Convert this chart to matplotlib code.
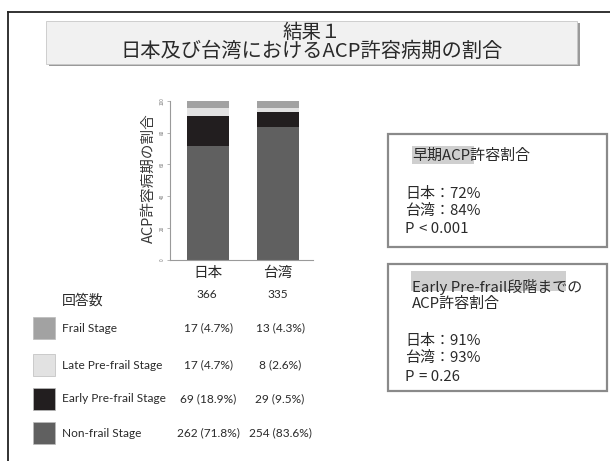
import matplotlib.pyplot as plt
from matplotlib.patches import Rectangle
import numpy as np

plt.rcParams['font.family'] = ['Noto Sans CJK JP', 'DejaVu Sans']

# Stage shares (%) per country, bottom to top of each stacked bar
countries = ['日本', '台湾']
stages = ['Non-frail Stage', 'Early Pre-frail Stage', 'Late Pre-frail Stage', 'Frail Stage']
pct_japan = [71.8, 18.9, 4.7, 4.7]
pct_taiwan = [83.6, 9.5, 2.6, 4.3]
stage_colors = ['#606060', '#221e1f', '#e2e2e2', '#a2a2a2']

# Table below the chart
n_total = [366, 335]
counts_japan = [262, 69, 17, 17]
counts_taiwan = [254, 29, 8, 13]

W, H = 610, 461
fig = plt.figure(figsize=(W / 100, H / 100), dpi=100)


def fx(x):
    return x / W


def fy(y):
    return 1 - y / H


# slide frame (top and left rule)
fig.add_artist(plt.Line2D([fx(8), fx(610)], [fy(12), fy(12)], color='#222222', lw=1.3))
fig.add_artist(plt.Line2D([fx(8), fx(8)], [fy(12), fy(461)], color='#222222', lw=1.3))

# title box with shadow
fig.add_artist(Rectangle((fx(49), fy(66)), fx(531), 43 / H, facecolor='#9a9a9a',
                         edgecolor='none', transform=fig.transFigure))
fig.add_artist(Rectangle((fx(46), fy(64)), fx(531), 43 / H, facecolor='#f1f1f1',
                         edgecolor='#c8c8c8', lw=0.6, transform=fig.transFigure))
fig.text(fx(312), fy(32), '結果１', ha='center', va='center', fontsize=14, color='#2a2a2a')
fig.text(fx(312), fy(51), '日本及び台湾におけるACP許容病期の割合', ha='center', va='center',
         fontsize=14.6, color='#2a2a2a')

# stacked bar chart
ax = fig.add_axes([fx(170), fy(260), fx(143), (260 - 96) / H])
x = np.arange(1, len(countries) + 1)
data = np.array([pct_japan, pct_taiwan]).T
bottom = np.zeros(len(countries))
for vals, col in zip(data, stage_colors):
    ax.bar(x, vals, bottom=bottom, width=0.6, color=col, edgecolor='none')
    bottom += vals
ax.set_xlim(0.457, 2.5)
ax.set_ylim(0, 103)
ax.spines[['top', 'right']].set_visible(False)
ax.spines['left'].set_bounds(0, 100)
for s in ['left', 'bottom']:
    ax.spines[s].set_color('#9a9a9a')
    ax.spines[s].set_linewidth(0.8)
ax.set_yticks([0, 20, 40, 60, 80, 100])
ax.set_yticklabels(['0', '20', '40', '60', '80', '100'], rotation=90, va='center',
                   fontsize=3.4, color='#777777')
ax.tick_params(axis='y', length=2, width=0.5, color='#9a9a9a', pad=1.5)
ax.set_xticks(x)
ax.set_xticklabels(countries, fontsize=10.5, color='#2a2a2a')
ax.tick_params(axis='x', length=0, pad=4)
ax.set_ylabel('ACP許容病期の割合', fontsize=10.5, color='#3a3a3a', labelpad=3)

# table: legend swatches, labels and counts
tfont = dict(family=['Lato', 'DejaVu Sans'], color='#2a2a2a', fontsize=8.6)
fig.text(fx(62), fy(301), '回答数', ha='left', va='center', fontsize=10, color='#2a2a2a')
for cx, n in zip([207, 278], n_total):
    fig.text(fx(cx), fy(295), str(n), ha='center', va='center', **tfont)

row_y = [328, 365, 399, 433]
for i, y in enumerate(row_y):
    k = len(stages) - 1 - i
    fig.add_artist(Rectangle((fx(33), fy(y + 11)), 22 / W, 22 / H, facecolor=stage_colors[k],
                             edgecolor='#bbbbbb', lw=0.5, transform=fig.transFigure))
    fig.text(fx(62), fy(y), stages[k], ha='left', va='center', **tfont)
    fig.text(fx(208), fy(y), f'{counts_japan[k]} ({pct_japan[k]:.1f}%)', ha='center', va='center', **tfont)
    fig.text(fx(280), fy(y), f'{counts_taiwan[k]} ({pct_taiwan[k]:.1f}%)', ha='center', va='center', **tfont)

# result boxes on the right
bfont = dict(fontsize=10.8, color='#2a2a2a', ha='left', va='center')
for top, bot in [(134, 247), (264, 391)]:
    fig.add_artist(Rectangle((fx(388), fy(bot)), fx(219), (bot - top) / H, facecolor='white',
                             edgecolor='#8a8a8a', lw=1.6, transform=fig.transFigure))

fig.add_artist(Rectangle((fx(412), fy(164)), fx(62), 18 / H, facecolor='#cfcfcf',
                         edgecolor='none', transform=fig.transFigure))
fig.text(fx(412), fy(156), '早期ACP許容割合', **bfont)
fig.text(fx(405), fy(194), '日本：72%', **bfont)
fig.text(fx(405), fy(211), '台湾：84%', **bfont)
fig.text(fx(405), fy(229), 'P', style='italic', **bfont)
fig.text(fx(419), fy(229), '< 0.001', **bfont)

fig.add_artist(Rectangle((fx(411), fy(291)), fx(155), 20 / H, facecolor='#cfcfcf',
                         edgecolor='none', transform=fig.transFigure))
fig.text(fx(412), fy(287), 'Early Pre-frail段階までの', **bfont)
fig.text(fx(412), fy(304), 'ACP許容割合', **bfont)
fig.text(fx(405), fy(341), '日本：91%', **bfont)
fig.text(fx(405), fy(358), '台湾：93%', **bfont)
fig.text(fx(405), fy(377), 'P', style='italic', **bfont)
fig.text(fx(419), fy(377), '= 0.26', **bfont)

fig.savefig('out.png', dpi=100, facecolor='white')
